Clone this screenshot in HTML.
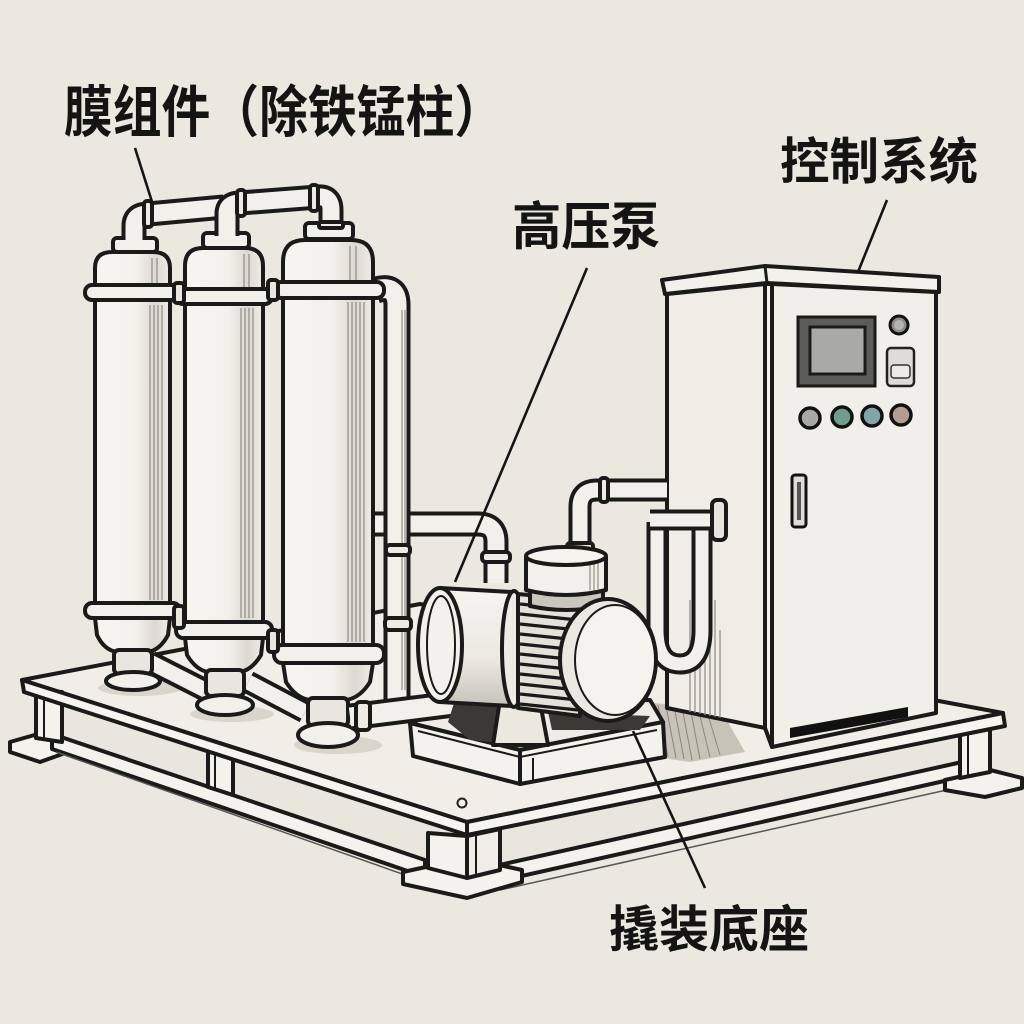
<!DOCTYPE html>
<html><head><meta charset="utf-8">
<style>
html,body{margin:0;padding:0;background:#ebe8df;}
svg{display:block}
text{font-family:"Liberation Sans","Noto Sans CJK SC","WenQuanYi Zen Hei",sans-serif;font-weight:700;fill:#141414;}
.k{stroke:#1a1a1a;stroke-width:4;stroke-linejoin:round}
.to{fill:none;stroke:#1a1a1a;stroke-linejoin:round}
.ti{fill:none;stroke:#f2f0ea;stroke-linejoin:round}
.h{stroke:#8e8b83;stroke-width:1.2;fill:none}
.ld{stroke:#151515;stroke-width:2.6;fill:none}
</style></head><body>
<svg width="1024" height="1024" viewBox="0 0 1024 1024" xmlns="http://www.w3.org/2000/svg">
<defs>
<linearGradient id="cyl" x1="0" x2="1" y1="0" y2="0">
<stop offset="0" stop-color="#f7f5f0"/><stop offset="0.55" stop-color="#f3f1eb"/><stop offset="0.8" stop-color="#dcd9d1"/><stop offset="1" stop-color="#efece6"/>
</linearGradient>
<linearGradient id="cylV" x1="0" x2="0" y1="0" y2="1">
<stop offset="0" stop-color="#f6f4ef"/><stop offset="0.6" stop-color="#ebe9e2"/><stop offset="1" stop-color="#c6c3ba"/>
</linearGradient>
</defs>
<rect width="1024" height="1024" fill="#ebe8df"/>

<!-- ===== PLATFORM ===== -->
<polygon points="22,680 420,604 1003,713 467,822" fill="#f1eee7" class="k"/>
<polygon points="40,693 440,826 440,862 58,736" fill="#e9e6de"/>
<polygon points="10,742 38,734 68,742 68,752 40,762 10,752" fill="#f4f2ec" class="k"/>
<polygon points="52,734 425,860 425,877 52,749" fill="#f4f2ec" class="k"/>
<line x1="56" y1="752" x2="425" y2="882" stroke="#555" stroke-width="1.5"/>
<polygon points="36,690 62,692 62,742 36,738" fill="#f4f2ec" class="k"/>
<line x1="44" y1="692" x2="44" y2="739" stroke="#1a1a1a" stroke-width="2"/>
<polygon points="208,751 233,759 233,795 208,787" fill="#f4f2ec" class="k"/>
<line x1="215" y1="753" x2="215" y2="789" stroke="#1a1a1a" stroke-width="2"/>
<polygon points="495,829 962,733 962,764 495,866" fill="#e9e6de"/>
<polygon points="495,866 962,762 962,777 495,882" fill="#f4f2ec" class="k"/>
<line x1="500" y1="890" x2="960" y2="787" stroke="#555" stroke-width="1.5"/>
<polygon points="945,780 990,770 1022,778 1022,788 985,797 945,790" fill="#f4f2ec" class="k"/>
<polygon points="960,735 990,729 990,772 960,778" fill="#f4f2ec" class="k"/>
<line x1="968" y1="734" x2="968" y2="777" stroke="#1a1a1a" stroke-width="2"/>
<polygon points="403,872 467,858 522,870 522,882 467,898 403,884" fill="#f4f2ec" class="k"/>
<polygon points="428,833 467,836 467,878 428,868" fill="#f4f2ec" class="k"/>
<polygon points="467,836 500,829 500,870 467,878" fill="#efede6" class="k"/>
<line x1="476" y1="835" x2="476" y2="876" stroke="#1a1a1a" stroke-width="2"/>
<polygon points="22,680 467,822 467,835 24,692" fill="#f6f4ef" class="k"/>
<polygon points="467,822 1003,713 1005,726 467,835" fill="#f6f4ef" class="k"/>
<circle cx="462" cy="803" r="4.5" fill="none" stroke="#222" stroke-width="2"/>

<polygon points="640,702 720,708 745,752 690,762 655,757" fill="#c7c3b8"/>
<g stroke="#8a867d" stroke-width="1">
<line x1="650" y1="705" x2="660" y2="756"/><line x1="658" y1="705" x2="668" y2="757"/><line x1="666" y1="706" x2="676" y2="758"/><line x1="674" y1="706" x2="684" y2="759"/><line x1="682" y1="707" x2="692" y2="760"/><line x1="690" y1="707" x2="700" y2="759"/><line x1="698" y1="708" x2="710" y2="757"/><line x1="706" y1="708" x2="720" y2="755"/>
</g>
<ellipse cx="140" cy="688" rx="42" ry="8" fill="#d9d5cb"/>
<ellipse cx="232" cy="714" rx="42" ry="8" fill="#d9d5cb"/>
<ellipse cx="338" cy="745" rx="44" ry="9" fill="#d9d5cb"/>

<!-- ===== CABINET ===== -->
<polygon points="667,294 765,284 765,728 667,708" fill="#efede6" class="k"/>
<polygon points="772,284 936,292 936,713 772,747" fill="#f1efe9" class="k"/>
<polygon points="765,284 772,284 772,747 765,728" fill="#f4f2ec" class="k"/>
<polygon points="662,280 765,266 939,277 939,292 767,283 665,294" fill="#f3f1eb" class="k"/>
<line x1="765" y1="266" x2="767" y2="283" stroke="#1a1a1a" stroke-width="3"/>
<polygon points="790,728 908,707 908,717 790,738" fill="#111"/>
<g class="h">
<line x1="690" y1="600" x2="690" y2="712"/><line x1="695" y1="590" x2="695" y2="713"/><line x1="700" y1="610" x2="700" y2="714"/><line x1="705" y1="585" x2="705" y2="715"/><line x1="710" y1="620" x2="710" y2="716"/><line x1="715" y1="600" x2="715" y2="717"/><line x1="720" y1="630" x2="720" y2="718"/>
</g>
<rect x="798" y="317" width="77" height="69" fill="#5c5c59" stroke="#1a1a1a" stroke-width="3"/>
<rect x="810" y="327" width="55" height="47" fill="#a9a9a5" stroke="#1a1a1a" stroke-width="3"/>
<circle cx="899" cy="325" r="9" fill="#8d8d88" stroke="#111" stroke-width="3"/>
<circle cx="899" cy="325" r="5" fill="#b4b4af"/>
<rect x="887" y="348" width="27" height="38" rx="4" fill="#dedcd6" stroke="#222" stroke-width="2.5"/>
<rect x="891" y="365" width="19" height="13" rx="3" fill="#eceae4" stroke="#333" stroke-width="1.5"/>
<circle cx="810" cy="418" r="10" fill="#a9a9a3" stroke="#111" stroke-width="3.5"/>
<circle cx="842" cy="417" r="10" fill="#6e9d8e" stroke="#111" stroke-width="3.5"/>
<circle cx="872" cy="416" r="10" fill="#7fa7a8" stroke="#111" stroke-width="3.5"/>
<circle cx="901" cy="415" r="10" fill="#b39d8f" stroke="#111" stroke-width="3.5"/>
<rect x="792" y="475" width="14" height="52" rx="3" fill="#dedcd6" stroke="#111" stroke-width="3"/>
<rect x="797" y="482" width="4" height="38" fill="#555"/>

<!-- ===== PUMP SUB-BASE ===== -->
<polygon points="410,723 455,705 650,700 663,722 520,750" fill="#efece5" class="k"/>
<polygon points="410,723 520,750 520,784 413,756" fill="#f4f2ec" class="k"/>
<polygon points="520,750 663,722 665,757 520,784" fill="#f4f2ec" class="k"/>
<polyline points="418,731 520,757 657,730" fill="none" stroke="#1a1a1a" stroke-width="2"/>
<line x1="533" y1="758" x2="533" y2="782" stroke="#1a1a1a" stroke-width="2"/>

<!-- ===== PIPES behind columns ===== -->
<path d="M372,524 L478,524 Q496,524 496,542 L496,583" class="to" stroke-width="25"/>
<path d="M372,524 L478,524 Q496,524 496,542 L496,583" class="ti" stroke-width="17"/>
<path d="M376,290 Q397,284 397,305 L397,702" class="to" stroke-width="27"/>
<path d="M376,290 Q397,284 397,305 L397,702" class="ti" stroke-width="19"/>
<g class="h"><line x1="402" y1="310" x2="402" y2="690"/><line x1="405" y1="310" x2="405" y2="690"/></g>
<rect x="386" y="545" width="24" height="10" rx="4" fill="#eeebe4" class="k" stroke-width="2.5"/>
<rect x="385" y="618" width="26" height="12" rx="4" fill="#eeebe4" class="k" stroke-width="2.5"/>
<rect x="482" y="552" width="28" height="10" rx="4" fill="#eeebe4" class="k" stroke-width="2.5"/>

<path d="M150,662 L205,690" class="to" stroke-width="23"/><path d="M150,662 L205,690" class="ti" stroke-width="15"/>
<path d="M248,682 L305,712" class="to" stroke-width="23"/><path d="M248,682 L305,712" class="ti" stroke-width="15"/>

<!-- ===== COLUMNS ===== -->
<rect x="113" y="238" width="44" height="14" rx="4" fill="#f2f0ea" class="k"/>
<path d="M95,288 L95,268 Q95,252 112,252 L153,252 Q170,252 170,268 L170,288 Z" fill="url(#cyl)" class="k"/>
<rect x="95" y="300" width="75" height="305" fill="url(#cyl)" class="k"/>
<g class="h"><line x1="150" y1="305" x2="150" y2="600"/><line x1="154" y1="305" x2="154" y2="600"/><line x1="158" y1="305" x2="158" y2="600"/><line x1="162" y1="305" x2="162" y2="600"/><line x1="152" y1="258" x2="152" y2="285"/><line x1="157" y1="258" x2="157" y2="285"/></g>
<rect x="85" y="285" width="95" height="15" rx="7" fill="#f2f0ea" class="k"/>
<path d="M95,618 L170,618 L168,635 Q160,650 148,652 L117,652 Q104,650 97,635 Z" fill="url(#cyl)" class="k"/>
<rect x="85" y="603" width="95" height="15" rx="7" fill="#f2f0ea" class="k"/>
<rect x="114" y="650" width="38" height="24" rx="5" fill="#e9e6df" class="k"/>
<ellipse cx="133" cy="681" rx="27" ry="9" fill="#f2f0ea" class="k"/>

<rect x="203" y="233" width="46" height="15" rx="4" fill="#f2f0ea" class="k"/>
<path d="M185,292 L185,266 Q185,248 203,248 L245,248 Q263,248 263,266 L263,292 Z" fill="url(#cyl)" class="k"/>
<rect x="185" y="304" width="78" height="318" fill="url(#cyl)" class="k"/>
<g class="h"><line x1="241" y1="308" x2="241" y2="618"/><line x1="245" y1="308" x2="245" y2="618"/><line x1="249" y1="308" x2="249" y2="618"/><line x1="253" y1="308" x2="253" y2="618"/><line x1="244" y1="254" x2="244" y2="288"/><line x1="249" y1="254" x2="249" y2="288"/></g>
<rect x="176" y="289" width="96" height="15" rx="7" fill="#f2f0ea" class="k"/>
<path d="M185,638 L263,638 L261,655 Q252,670 240,672 L208,672 Q196,670 187,655 Z" fill="url(#cyl)" class="k"/>
<rect x="176" y="622" width="96" height="16" rx="7" fill="#f2f0ea" class="k"/>
<rect x="206" y="670" width="38" height="26" rx="5" fill="#e9e6df" class="k"/>
<ellipse cx="225" cy="705" rx="28" ry="10" fill="#f2f0ea" class="k"/>

<rect x="305" y="223" width="48" height="16" rx="4" fill="#f2f0ea" class="k"/>
<path d="M283,285 L283,262 Q283,240 305,240 L351,240 Q373,240 373,262 L373,285 Z" fill="url(#cyl)" class="k"/>
<rect x="283" y="298" width="90" height="347" fill="url(#cyl)" class="k"/>
<g class="h"><line x1="348" y1="302" x2="348" y2="642"/><line x1="352" y1="302" x2="352" y2="642"/><line x1="356" y1="302" x2="356" y2="642"/><line x1="360" y1="302" x2="360" y2="642"/><line x1="364" y1="302" x2="364" y2="642"/><line x1="350" y1="246" x2="350" y2="280"/><line x1="356" y1="246" x2="356" y2="280"/></g>
<rect x="274" y="282" width="110" height="16" rx="7" fill="#f2f0ea" class="k"/>
<path d="M283,663 L373,663 L370,682 Q360,698 346,700 L310,700 Q296,698 286,682 Z" fill="url(#cyl)" class="k"/>
<rect x="274" y="645" width="110" height="18" rx="8" fill="#f2f0ea" class="k"/>
<rect x="308" y="698" width="40" height="28" rx="5" fill="#e9e6df" class="k"/>
<ellipse cx="328" cy="735" rx="30" ry="12" fill="#f2f0ea" class="k"/>
<rect x="174" y="283" width="10" height="20" rx="3" fill="#e9e6df" class="k" stroke-width="2.5"/>
<rect x="268" y="280" width="10" height="20" rx="3" fill="#e9e6df" class="k" stroke-width="2.5"/>
<rect x="174" y="606" width="10" height="22" rx="3" fill="#e9e6df" class="k" stroke-width="2.5"/>
<rect x="268" y="630" width="10" height="22" rx="3" fill="#e9e6df" class="k" stroke-width="2.5"/>

<path d="M350,717 L462,703" class="to" stroke-width="27"/><path d="M350,717 L462,703" class="ti" stroke-width="19"/>
<rect x="356" y="702" width="14" height="28" rx="4" fill="#eeebe4" class="k" stroke-width="2.5"/>

<path d="M134,240 L134,226 Q134,214 148,214 L224,207" class="to" stroke-width="25"/>
<path d="M134,240 L134,226 Q134,214 148,214 L224,207" class="ti" stroke-width="17"/>
<path d="M227,236 L227,214 Q227,203 240,203 L318,197 Q331,196 331,210 L331,226" class="to" stroke-width="25"/>
<path d="M227,236 L227,214 Q227,203 240,203 L318,197 Q331,196 331,210 L331,226" class="ti" stroke-width="17"/>
<rect x="144" y="201" width="8" height="26" rx="3" fill="#eeebe4" class="k" stroke-width="2.5"/>
<rect x="237" y="190" width="8" height="26" rx="3" fill="#eeebe4" class="k" stroke-width="2.5"/>
<rect x="310" y="185" width="8" height="26" rx="3" fill="#eeebe4" class="k" stroke-width="2.5"/>
<rect x="319" y="222" width="24" height="6" rx="2" fill="#eeebe4" class="k" stroke-width="2.5"/>

<!-- ===== RIGHT PIPES ===== -->
<path d="M657,522 L657,630 Q657,664 680,664 Q702,664 702,630 L702,528" class="to" stroke-width="21"/>
<path d="M657,522 L657,630 Q657,664 680,664 Q702,664 702,630 L702,528" class="ti" stroke-width="13"/>
<path d="M650,520 L718,520" class="to" stroke-width="21"/><path d="M650,520 L718,520" class="ti" stroke-width="13"/>
<rect x="712" y="500" width="14" height="40" rx="5" fill="#e8e5de" class="k" stroke-width="3"/>
<path d="M580,552 L580,507 Q580,490 597,490 L667,490" class="to" stroke-width="23"/>
<path d="M580,552 L580,507 Q580,490 597,490 L667,490" class="ti" stroke-width="15"/>
<rect x="600" y="478" width="8" height="24" rx="3" fill="#eeebe4" class="k" stroke-width="2.5"/>
<rect x="567" y="543" width="26" height="10" rx="3" fill="#eeebe4" class="k" stroke-width="2.5"/>

<!-- ===== PUMP ===== -->
<polygon points="455,700 500,704 492,742 470,740 448,722" fill="#3a3936"/>
<polygon points="500,700 540,702 548,745 493,745" fill="#ebe8e0" class="k"/>
<polygon points="548,712 650,716 640,730 552,730" fill="#3a3936"/>
<path d="M440,588 L512,592 L512,706 L440,702 Z" fill="url(#cylV)" class="k"/>
<ellipse cx="440" cy="645" rx="22" ry="57" fill="#f3f1eb" class="k"/>
<ellipse cx="441" cy="645" rx="14" ry="49" fill="none" stroke="#1a1a1a" stroke-width="2"/>
<ellipse cx="514" cy="649" rx="12" ry="58" fill="#eeebe4" class="k"/>
<path d="M518,594 L580,600 L580,716 L518,708 Z" fill="#e4e1d9" class="k"/>
<g stroke="#1a1a1a" stroke-width="3.2">
<line x1="520" y1="604" x2="578" y2="610"/><line x1="520" y1="614" x2="578" y2="620"/><line x1="520" y1="624" x2="578" y2="630"/><line x1="520" y1="634" x2="578" y2="640"/><line x1="520" y1="644" x2="578" y2="650"/><line x1="520" y1="654" x2="578" y2="660"/><line x1="520" y1="664" x2="578" y2="670"/><line x1="520" y1="674" x2="578" y2="680"/><line x1="520" y1="684" x2="578" y2="690"/><line x1="520" y1="694" x2="578" y2="700"/><line x1="520" y1="704" x2="578" y2="710"/>
</g>
<path d="M530,590 L530,606 Q566,614 603,606 L603,590" fill="#c9c6be" class="k" stroke-width="3"/>
<path d="M526,556 L526,590 Q566,600 606,590 L606,556" fill="#f2f0ea" class="k"/>
<g class="h"><line x1="590" y1="562" x2="590" y2="590"/><line x1="594" y1="562" x2="594" y2="590"/><line x1="598" y1="562" x2="598" y2="589"/></g>
<ellipse cx="566" cy="556" rx="40" ry="9" fill="#f5f3ee" class="k"/>
<ellipse cx="608" cy="660" rx="48" ry="61" fill="#ebe8e1" stroke="#1a1a1a" stroke-width="4"/>
<ellipse cx="615" cy="660" rx="40" ry="55" fill="#f5f3ee" stroke="#1a1a1a" stroke-width="2"/>

<!-- ===== LEADERS ===== -->
<line x1="135" y1="148" x2="153" y2="205" class="ld"/>
<line x1="887" y1="200" x2="858" y2="272" class="ld"/>
<line x1="587" y1="268" x2="455" y2="582" class="ld"/>
<line x1="633" y1="731" x2="705" y2="888" class="ld"/>

<!-- ===== LABELS ===== -->
<text x="64" y="132" font-size="56" textLength="439" lengthAdjust="spacingAndGlyphs">膜组件（除铁锰柱）</text>
<text x="780" y="179" font-size="50" textLength="198" lengthAdjust="spacingAndGlyphs">控制系统</text>
<text x="512" y="245" font-size="52" textLength="148" lengthAdjust="spacingAndGlyphs">高压泵</text>
<text x="609" y="947" font-size="50" textLength="200" lengthAdjust="spacingAndGlyphs">撬装底座</text>
</svg>
</body></html>
